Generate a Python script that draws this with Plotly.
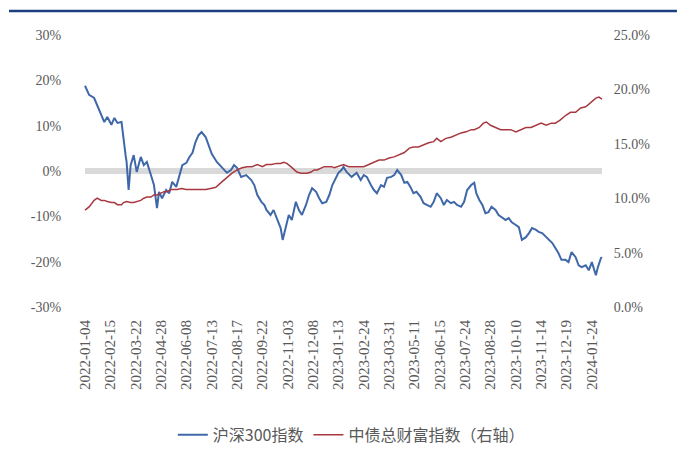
import plotly.graph_objects as go

# Trading-day positions (index from 2022-01-04) and cumulative returns, %
hs300_day = [0, 4, 9, 12, 16, 19, 22, 26, 29, 32, 36, 38, 40, 41, 43, 45, 48, 51, 55, 58,
             61, 65, 68, 71, 73, 76, 80, 83, 86, 90, 93, 96, 100, 103, 106, 109, 112, 115, 119, 122,
             125, 130, 135, 140, 144, 147, 150, 154, 159, 164, 167, 170, 174, 177, 179, 183, 186, 189, 193, 195,
             198, 201, 204, 208, 211, 214, 218, 221, 224, 228, 231, 234, 238, 241, 244, 248, 250, 253, 255, 258,
             263, 268, 272, 275, 278, 282, 285, 288, 292, 295, 298, 302, 305, 308, 312, 315, 318, 321, 324, 327,
             331, 334, 337, 341, 344, 347, 351, 354, 357, 361, 364, 367, 371, 374, 377, 381, 384, 386, 389, 392,
             395, 398, 401, 405, 408, 411, 415, 418, 421, 425, 428, 431, 435, 438, 441, 445, 448, 451, 455, 458,
             461, 464, 467, 470, 474, 477, 480, 484, 487, 490, 494, 497, 500, 504, 506, 509, 510]
hs300_ret = [18.8, 16.8, 16.1, 14.6, 12.4, 10.8, 11.9, 10.2, 11.7, 10.6, 10.8, 6.4, 3.5, 2.0, -4.2, 1.3, 3.5, -0.2, 3.1, 1.3,
             2.0, -0.9, -3.1, -8.2, -4.6, -6.0, -4.2, -4.9, -2.4, -3.5, -0.9, 1.3, 1.8, 3.1, 4.0, 6.4, 7.9, 8.6, 7.5, 5.8,
             3.8, 2.0, 0.9, -0.4, 0.2, 1.3, 0.7, -1.3, -0.9, -2.0, -3.1, -5.3, -6.8, -7.5, -8.6, -9.7, -8.6, -10.4, -12.6, -15.2,
             -12.6, -9.7, -10.8, -6.8, -8.6, -9.7, -7.5, -5.3, -3.8, -4.6, -6.0, -7.1, -6.8, -5.3, -3.1, -1.3, -0.4, 0.2, 0.9, -0.2,
             -1.3, -0.4, -2.0, -0.9, -1.3, -3.1, -4.2, -4.9, -3.1, -3.5, -1.5, -1.3, -0.9, 0.2, -0.9, -2.6, -2.4, -3.5, -4.9, -4.6,
             -5.7, -7.1, -7.5, -7.9, -6.8, -4.9, -6.0, -7.5, -6.4, -7.1, -6.8, -7.5, -7.9, -6.8, -4.2, -3.1, -2.6, -4.9, -6.4, -7.5,
             -9.3, -9.1, -7.9, -8.6, -9.7, -10.2, -10.8, -10.4, -11.3, -11.9, -12.4, -15.2, -14.6, -13.7, -12.6, -13.0, -13.5, -13.7, -14.6, -15.2,
             -15.9, -17.0, -18.1, -19.6, -19.6, -20.1, -17.9, -19.0, -20.8, -21.2, -20.8, -21.9, -20.1, -23.0, -21.2, -19.2, -19.0]

bond_day = [0, 4, 9, 12, 16, 19, 22, 26, 29, 32, 36, 38, 41, 45, 48, 51, 55, 58, 61, 65,
            68, 71, 75, 78, 81, 85, 88, 91, 95, 100, 106, 112, 119, 124, 129, 135, 140, 145, 150, 155,
            160, 165, 170, 175, 179, 184, 189, 193, 196, 199, 203, 206, 209, 213, 216, 219, 223, 226, 229, 233,
            236, 239, 243, 246, 249, 253, 255, 260, 265, 270, 275, 280, 285, 290, 295, 300, 305, 310, 315, 320,
            324, 329, 334, 339, 344, 347, 351, 356, 361, 366, 371, 376, 381, 384, 389, 393, 396, 400, 405, 410,
            415, 420, 425, 430, 435, 440, 445, 450, 455, 460, 464, 469, 474, 479, 484, 489, 494, 499, 504, 507, 510]
bond_ret = [8.9, 9.2, 9.8, 10.0, 9.8, 9.8, 9.7, 9.6, 9.6, 9.4, 9.4, 9.6, 9.7, 9.6, 9.6, 9.7, 9.8, 10.0, 10.1, 10.1,
            10.3, 10.3, 10.5, 10.6, 10.6, 10.8, 10.8, 10.8, 10.9, 10.8, 10.8, 10.8, 10.8, 10.9, 11.0, 11.5, 11.9, 12.3, 12.6, 12.8,
            12.9, 12.9, 13.1, 12.9, 13.1, 13.1, 13.2, 13.2, 13.3, 13.2, 12.9, 12.6, 12.4, 12.3, 12.3, 12.3, 12.4, 12.6, 12.6, 12.8,
            12.9, 12.9, 12.9, 12.8, 12.9, 13.1, 13.1, 12.9, 12.9, 12.9, 12.9, 13.1, 13.3, 13.5, 13.5, 13.7, 13.8, 14.0, 14.2, 14.6,
            14.7, 14.7, 14.9, 15.1, 15.2, 15.5, 15.2, 15.5, 15.6, 15.8, 16.0, 16.1, 16.3, 16.3, 16.5, 16.9, 17.0, 16.7, 16.5, 16.3,
            16.3, 16.3, 16.1, 16.3, 16.5, 16.5, 16.7, 16.9, 16.7, 16.9, 16.9, 17.2, 17.6, 17.9, 17.9, 18.3, 18.4, 18.8, 19.2, 19.3, 19.1]

# Category labels shown every 25 trading days
date_tick_day = [0, 25, 50, 75, 100, 125, 150, 175, 200, 225, 250, 275, 300, 325, 350, 375, 400, 425, 450, 475, 500]
date_tick_text = ["2022-01-04", "2022-02-15", "2022-03-22", "2022-04-28", "2022-06-08", "2022-07-13",
                  "2022-08-17", "2022-09-22", "2022-11-03", "2022-12-08", "2023-01-13", "2023-02-24",
                  "2023-03-31", "2023-05-11", "2023-06-15", "2023-07-24", "2023-08-28", "2023-10-10",
                  "2023-11-14", "2023-12-19", "2024-01-24"]

left_tick_val = [-30, -20, -10, 0, 10, 20, 30]
left_tick_text = ["-30%", "-20%", "-10%", "0%", "10%", "20%", "30%"]
right_tick_val = [0, 5, 10, 15, 20, 25]
right_tick_text = ["0.0%", "5.0%", "10.0%", "15.0%", "20.0%", "25.0%"]

zero_day = [hs300_day[0], hs300_day[-1]]
zero_val = [0, 0]

BLUE = "#3F68A8"
RED = "#A8383F"
TICK_FONT = dict(family="Liberation Serif, Noto Sans CJK SC", size=14, color="#595959")
DATE_FONT = dict(family="Liberation Serif, Noto Sans CJK SC", size=15, color="#595959")

fig = go.Figure()

# Light grey band marking the zero level on the left axis
fig.add_trace(go.Scatter(x=zero_day, y=zero_val, mode="lines",
                         line=dict(color="#D9D9D9", width=6),
                         showlegend=False, hoverinfo="skip"))

fig.add_trace(go.Scatter(x=hs300_day, y=hs300_ret, mode="lines", name="沪深300指数",
                         line=dict(color=BLUE, width=2)))

fig.add_trace(go.Scatter(x=bond_day, y=bond_ret, mode="lines", name="中债总财富指数（右轴）",
                         line=dict(color=RED, width=1.5), yaxis="y2"))

fig.update_layout(
    width=686, height=459,
    margin=dict(l=83, r=82, t=35, b=152, autoexpand=False),
    paper_bgcolor="white", plot_bgcolor="white",
    showlegend=True,
    legend=dict(orientation="h", x=0.515, xanchor="center", y=-0.47, yanchor="middle",
                font=dict(family="Noto Sans CJK SC", size=16, color="#595959"),
                itemwidth=30, bgcolor="rgba(0,0,0,0)"),
    xaxis=dict(range=[-2, 512], tickmode="array", tickvals=date_tick_day, ticktext=date_tick_text,
               tickangle=-90, showgrid=False, zeroline=False, showline=False,
               ticks="outside", ticklen=6, tickcolor="rgba(0,0,0,0)", tickfont=DATE_FONT),
    yaxis=dict(range=[-30, 30], tickmode="array", tickvals=left_tick_val, ticktext=left_tick_text,
               showgrid=False, zeroline=False, showline=False,
               ticks="outside", ticklen=18, tickcolor="rgba(0,0,0,0)", tickfont=TICK_FONT),
    yaxis2=dict(range=[0, 25], overlaying="y", side="right", tickmode="array",
                tickvals=right_tick_val, ticktext=right_tick_text,
                showgrid=False, zeroline=False, showline=False,
                ticks="outside", ticklen=6, tickcolor="rgba(0,0,0,0)", tickfont=TICK_FONT),
    shapes=[dict(type="line", xref="paper", yref="paper", x0=-0.142, x1=1.14, y0=1.088, y1=1.088,
                 line=dict(color="#1B3F80", width=2.5))],
)

fig.write_html("out.html")
